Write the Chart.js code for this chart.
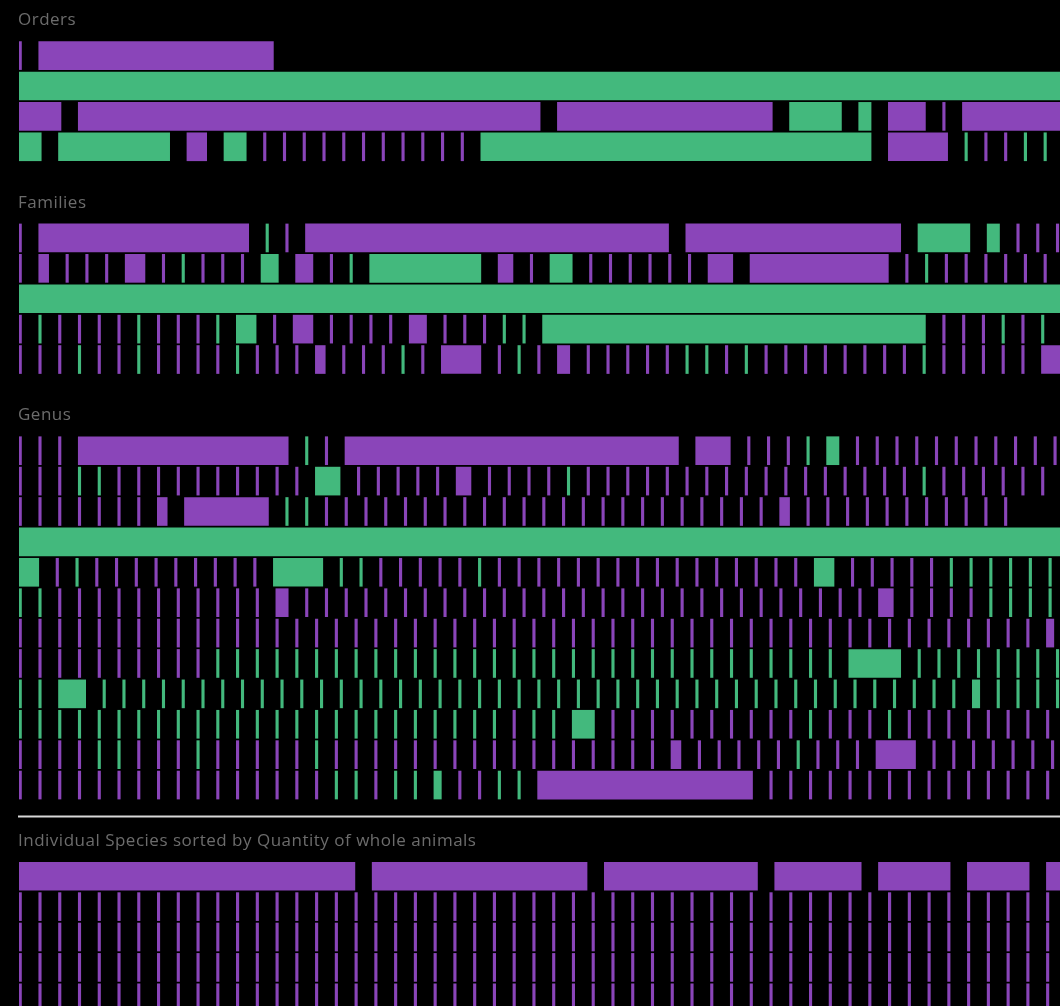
<!DOCTYPE html>
<html>
<head>
<meta charset="utf-8">
<script src="https://cdn.jsdelivr.net/npm/chart.js@4"></script>
<style>
  html, body { margin: 0; padding: 0; background: #000; overflow: hidden; }
  #wrap { position: relative; width: 1060px; height: 1013px; }
</style>
</head>
<body>
<div id="wrap"><canvas id="myChart"></canvas></div>
<script>
// Each row: counts of whole animals per taxon, in sort order.
// positive = purple group, negative = green group
const sectionTitles = ['Orders', 'Families', 'Genus', 'Individual Species sorted by Quantity of whole animals'];

const orderRows = [
  [1, 95],
  [-460],
  [17, 187, 87, -21, -5, 15, 1, 60],
  [-9, -45, 8, -9, 1, 1, 1, 1, 1, 1, 1, 1, 1, 1, 1, -158, 24, -1, 1, 1, -1, -1]
];

const familyRows = [
  [1, 85, -1, 1, 147, 87, -21, -5, 1, 1, 1],
  [1, 4, 1, 1, 1, 8, 1, -1, 1, 1, 1, -7, 7, 1, -1, -45, 6, 1, -9,
   1, 1, 1, 1, 1, 1, 10, 56, 1, -1, 1, 1, 1, 1, 1, 1],
  [-460],
  [1, -1, 1, 1, 1, 1, -1, 1, 1, 1, -1, -8, 1, 8, 1, 1, 1, 1, 7, 1, 1, 1, -1, -1,
   -155, 1, 1, 1, -1, 1, -1],
  [1, 1, 1, -1, 1, 1, -1, 1, 1, 1, 1, -1, 1, 1, 1, 4, 1, 1, 1, -1, 1, 16, 1, -1, 1, 5,
   1, 1, 1, 1, 1, -1, -1, 1, -1, 1, 1, 1, 1, 1, 1, 1, 1, -1, 1, 1, 1, 1, 1, 20]
];

const genusRows = [
  [1, 1, 1, 85, -1, 1, 135, 14, 1, 1, 1, -1, -5,
   1, 1, 1, 1, 1, 1, 1, 1, 1, 1, 1],
  [1, 1, 1, -1, -1,
   1, 1, 1, 1, 1, 1, 1, 1, 1, 1,
   -10, 1, 1, 1, 1, 1, 6, 1, 1, 1, 1, -1,
   1, 1, 1, 1, 1, 1, 1, 1, 1, 1,
   1, 1, 1, 1, 1, 1, 1,
   -1, 1, 1, 1, 1, 1, 1, -1],
  [1, 1, 1, 1, 1, 1, 1, 4, 34, -1, -1,
   1, 1, 1, 1, 1, 1, 1, 1, 1, 1,
   1, 1, 1, 1, 1, 1, 1, 1, 1, 1,
   1, 1, 1,
   4, 1, 1, 1, 1, 1, 1, 1, 1, 1, 1, 1],
  [-460],
  [-8, 1, -1, 1, 1, 1, 1, 1, 1, 1, 1, 1, -20, -1, -1, 1, 1, 1, 1, 1, -1,
   1, 1, 1, 1, 1, 1, 1, 1, 1, 1,
   1, 1, 1, 1, 1, 1,
   -8, 1, 1, 1, 1, 1, -1, -1, -1, -1, -1, -1],
  [-1, -1, 1, 1, 1, 1, 1, 1, 1, 1, 1, 1, 1, 5,
   1, 1, 1, 1, 1, 1, 1, 1, 1, 1,
   1, 1, 1, 1, 1, 1, 1, 1, 1, 1,
   1, 1, 1, 1, 1, 1, 1, 1, 1,
   6, 1, 1, 1, 1, -1, -1, -1, -1],
  [1, 1, 1, 1, 1, 1, 1, 1, 1, 1,
   1, 1, 1, 1, 1, 1, 1, 1, 1, 1,
   1, 1, 1, 1, 1, 1, 1, 1, 1, 1,
   1, 1, 1, 1, 1, 1, 1, 1, 1, 1,
   1, 1, 1, 1, 1, 1, 1, 1, 1, 1,
   1, 1, 3, 1, 1],
  [1, 1, 1, 1, 1, 1, 1, 1, 1, 1,
   -1, -1, -1, -1, -1, -1, -1, -1, -1, -1,
   -1, -1, -1, -1, -1, -1, -1, -1, -1, -1,
   -1, -1, -1, -1, -1, -1, -1, -1, -1, -1,
   -1, -1, -21, -1, -1, -1, -1, -1, -1, -1, -1],
  [-1, -1, -11,
   -1, -1, -1, -1, -1, -1, -1, -1, -1, -1,
   -1, -1, -1, -1, -1, -1, -1, -1, -1, -1,
   -1, -1, -1, -1, -1, -1, -1, -1, -1, -1,
   -1, -1, -1, -1, -1, -1, -1, -1, -1, -1,
   -1, -1, -1, -1, -3, -1, -1, -1, -1],
  [-1, -1, -1, -1, -1, -1, -1, -1, -1, -1,
   -1, -1, -1, -1, -1, -1, -1, -1, -1, -1,
   -1, -1, -1, -1, -1, 1, -1, -1, -9,
   1, 1, 1, 1, 1, 1, 1, 1, 1, 1, -1, 1, 1, 1, -1,
   1, 1, 1, 1, 1, 1, 1, 1],
  [1, 1, 1, 1, -1, -1, 1, 1, 1, -1, 1, 1, 1, 1, 1, -1,
   1, 1, 1, 1, 1, 1, 1, 1, 1, 1,
   1, 1, 1, 1, 1, 1, 1,
   4, 1, 1, 1, 1, 1, -1, 1, 1, 1, 16, 1, 1, 1, 1, 1, 1, 1],
  [1, 1, 1, 1, 1, 1, 1, 1, 1, 1, 1, 1, 1, 1, 1, 1,
   -1, -1, 1, -1, -1, -3, 1, 1, -1, -1, 87,
   1, 1, 1, 1, 1, 1, 1, 1, 1, 1, 1, 1, 1, 1, 1]
];

const singles = [
  1, 1, 1, 1, 1, 1, 1, 1, 1, 1,
  1, 1, 1, 1, 1, 1, 1, 1, 1, 1,
  1, 1, 1, 1, 1, 1, 1, 1, 1, 1,
  1, 1, 1, 1, 1, 1, 1, 1, 1, 1,
  1, 1, 1, 1, 1, 1, 1, 1, 1, 1,
  1, 1, 1, 1
];
const speciesRows = [
  [136, 87, 62, 35, 29, 25, 22],
  singles,
  singles,
  singles,
  singles
];

const sections = [orderRows, familyRows, genusRows, speciesRows];

const GAP = 7;          // space between taxa, in animal units
const X_MAX = 421.5;    // visible width, in animal units
const purple = '#8a45b9';
const green = '#43b97d';

// rows of the category axis: spacer, section title, then the data rows
const rowLabels = [];
const purpleData = [];
const greenData = [];
sections.forEach((rows, s) => {
  if (s > 0) rowLabels.push('gap ' + s);
  rowLabels.push(sectionTitles[s]);
  rows.forEach((row, r) => {
    const label = sectionTitles[s] + ' ' + (r + 1);
    rowLabels.push(label);
    let cursor = 0;
    row.forEach(n => {
      const w = Math.abs(n);
      const bar = { x: [cursor, cursor + w], y: label };
      if (n > 0) purpleData.push(bar); else greenData.push(bar);
      cursor += w + GAP;
    });
  });
});

const overlay = {
  id: 'overlay',
  afterDatasetsDraw(chart) {
    const { ctx } = chart;
    const y = chart.scales.y;
    ctx.save();
    ctx.font = '17px "Open Sans"';
    ctx.letterSpacing = '0.5px';
    ctx.fillStyle = '#6c6c6c';
    ctx.textBaseline = 'alphabetic';
    sectionTitles.forEach(t => {
      ctx.fillText(t, 18, y.getPixelForValue(rowLabels.indexOf(t)));
    });
    const sepIndex = rowLabels.indexOf(sectionTitles[3]) - 1;
    const sy = Math.round(y.getPixelForValue(sepIndex)) + 1.5;
    ctx.strokeStyle = '#d8d8d8';
    ctx.lineWidth = 2;
    ctx.beginPath();
    ctx.moveTo(18, sy);
    ctx.lineTo(chart.width, sy);
    ctx.stroke();
    ctx.restore();
  }
};

const ctx = document.getElementById('myChart').getContext('2d');
const myChart = new Chart(ctx, {
  type: 'bar',
  data: {
    labels: rowLabels,
    datasets: [
      { label: 'purple', data: purpleData, backgroundColor: purple },
      { label: 'green', data: greenData, backgroundColor: green }
    ]
  },
  options: {
    indexAxis: 'y',
    responsive: true,
    maintainAspectRatio: false,
    animation: false,
    layout: { padding: { left: 19, top: 10, right: 0, bottom: 0 } },
    datasets: {
      bar: { grouped: false, barThickness: 28, borderWidth: 0, borderSkipped: false }
    },
    scales: {
      x: { type: 'linear', min: 0, max: X_MAX, display: false },
      y: { type: 'category', display: false }
    },
    plugins: {
      legend: { display: false },
      tooltip: { enabled: false }
    }
  },
  plugins: [overlay]
});
</script>
</body>
</html>
